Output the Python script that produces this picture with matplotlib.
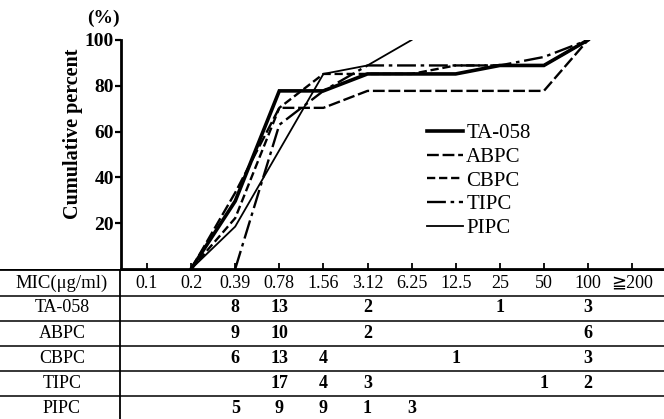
import numpy as np
import matplotlib
matplotlib.use("Agg")
import matplotlib.pyplot as plt

plt.rcParams["font.family"] = ["Liberation Serif", "DejaVu Serif", "DejaVu Sans", "Noto Sans CJK JP"]

# MIC classes (ug/ml) and number of strains per class
mic_labels = ["0.1", "0.2", "0.39", "0.78", "1.56", "3.12", "6.25", "12.5", "25", "50", "100", "≧200"]
drugs = ["TA-058", "ABPC", "CBPC", "TIPC", "PIPC"]
ta058 = [0, 0, 8, 13, 0, 2, 0, 0, 1, 0, 3, 0]
abpc  = [0, 0, 9, 10, 0, 2, 0, 0, 0, 0, 6, 0]
cbpc  = [0, 0, 6, 13, 4, 0, 0, 1, 0, 0, 3, 0]
tipc  = [0, 0, 0, 17, 4, 3, 0, 0, 0, 1, 2, 0]
pipc  = [0, 0, 5,  9, 9, 1, 3, 0, 0, 0, 0, 0]
counts = [ta058, abpc, cbpc, tipc, pipc]

styles = [dict(ls="-", lw=2.6),
          dict(ls=(0, (5, 1.6)), lw=1.7),
          dict(ls=(0, (3.5, 1.6)), lw=1.7),
          dict(ls=(0, (8, 2, 1.5, 2)), lw=1.7),
          dict(ls="-", lw=1.3)]

fig = plt.figure(figsize=(6.64, 4.19), dpi=100)
ax = fig.add_axes([121/664, 1 - 269/419, 543/664, 229/419])

x = np.arange(len(mic_labels))
for name, c, st in zip(drugs, counts, styles):
    c = np.array(c)
    cum = np.cumsum(c) / c.sum() * 100
    i0 = np.nonzero(c)[0][0] - 1
    i1 = np.argmax(cum >= 100)
    ax.plot(x[i0:i1 + 1], cum[i0:i1 + 1], color="black", label=name,
            solid_joinstyle="miter", **st)

ax.set_xlim((121 - 147) / 44.1, (664 - 147) / 44.1)
ax.set_ylim(0, 100)
ax.set_xticks(x)
ax.set_xticklabels([])
ax.set_yticks([20, 40, 60, 80, 100])
ax.tick_params(axis="x", direction="in", length=4, width=1.3)
ax.tick_params(axis="y", direction="out", length=4, width=1.6, labelsize=14, pad=1)
for lab in ax.get_yticklabels():
    lab.set_fontweight("bold")
ax.spines["top"].set_visible(False)
ax.spines["right"].set_visible(False)
ax.spines["left"].set_linewidth(2)
ax.spines["bottom"].set_linewidth(2)

ax.set_ylabel("Cumulative percent", fontsize=14.5, fontweight="bold")
ax.yaxis.set_label_coords(-0.07, 0.59)
fig.text(103/664, 1 - 18/419, "(%)", ha="center", va="center", fontsize=14, fontweight="bold")

ax.legend(loc="upper left", bbox_to_anchor=(0.563, 0.635), frameon=False, fontsize=15,
          handlelength=1.75, handletextpad=0.15, labelspacing=0.2, borderpad=0, borderaxespad=0)

# table under the plot (rows 25 px high)
tax = fig.add_axes([0, 0, 1, 150/419])
tax.set_xlim((0 - 147) / 44.1, (664 - 147) / 44.1)
tax.set_ylim(5.44, -0.56)
tax.axis("off")
label_x = (62 - 147) / 44.1
sep_x = (120 - 147) / 44.1
tax.axhline(-0.56, color="black", lw=2)
for k in range(len(drugs)):
    tax.axhline(k + 0.5, color="black", lw=1.1)
tax.axvline(sep_x, color="black", lw=1.3)

tax.text(label_x, 0, "MIC(μg/ml)", ha="center", va="center", fontsize=13.5)
for i, lab in enumerate(mic_labels):
    tax.text(i, 0, lab, ha="center", va="center", fontsize=13)
for k, (name, c) in enumerate(zip(drugs, counts)):
    tax.text(label_x, k + 1, name, ha="center", va="center", fontsize=13)
    for i, n in enumerate(c):
        if n:
            tax.text(i, k + 1, str(n), ha="center", va="center", fontsize=13, fontweight="bold")

fig.savefig("out.png", dpi=100)
